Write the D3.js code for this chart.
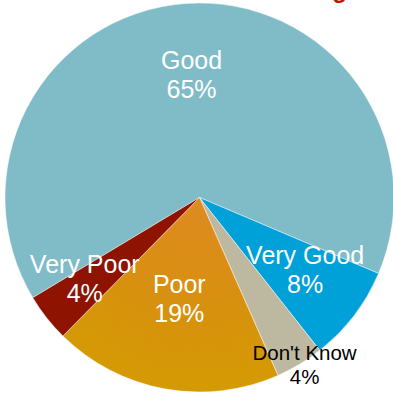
<!DOCTYPE html>
<html>
<head>
<meta charset="utf-8">
<script src="https://cdn.jsdelivr.net/npm/d3@7"></script>
<style>
  html, body { margin: 0; padding: 0; background: #fff; }
  svg { display: block; }
</style>
</head>
<body>
<svg id="chart" width="393" height="394"></svg>
<script>
// Survey responses, clockwise from the large "Good" slice
const categories = ["Good", "Very Good", "Don't Know", "Poor", "Very Poor"];
const values = [65, 8, 4, 19, 4];
const sliceColors = ["#80bcc8", "#00a0d9", "#bdb9a1", "#d4920c", "#8e1300"];
const labelColors = ["#ffffff", "#ffffff", "#000000", "#ffffff", "#ffffff"];
const labelSizes = [25, 25, 20.5, 25, 25];
const labelRadius = [114, 133, 204, 112, 146];

const width = 393, height = 394;
const cx = 199.5, cy = 197.5, radius = 194.5;
const startDeg = -121;

const svg = d3.select("#chart");

// Partially visible title above the chart
svg.append("text")
  .attr("x", 347)
  .attr("y", -2)
  .attr("text-anchor", "end")
  .attr("font-family", "Liberation Sans, Arial, sans-serif")
  .attr("font-weight", "bold")
  .attr("font-size", 24)
  .attr("fill", "#c01500")
  .text("Rating");

const defs = svg.append("defs");
const grad = defs.append("radialGradient")
  .attr("id", "poorFill")
  .attr("gradientUnits", "userSpaceOnUse")
  .attr("cx", 0).attr("cy", 0).attr("r", radius);
grad.append("stop").attr("offset", "0%").attr("stop-color", "#de8a22");
grad.append("stop").attr("offset", "55%").attr("stop-color", "#d8900f");
grad.append("stop").attr("offset", "100%").attr("stop-color", "#d49a04");

const data = categories.map((c, i) => ({
  name: c, value: values[i], color: sliceColors[i],
  textColor: labelColors[i], size: labelSizes[i], lr: labelRadius[i]
}));

const pie = d3.pie()
  .value(d => d.value)
  .sort(null)
  .startAngle(startDeg * Math.PI / 180)
  .endAngle((startDeg + 360) * Math.PI / 180);

const arc = d3.arc().innerRadius(0).outerRadius(radius);

const g = svg.append("g").attr("transform", `translate(${cx},${cy})`);
const arcs = pie(data);

g.selectAll("path.slice")
  .data(arcs)
  .join("path")
  .attr("class", "slice")
  .attr("d", arc)
  .attr("fill", d => d.data.name === "Poor" ? "url(#poorFill)" : d.data.color)
  .attr("stroke", "rgba(255,255,255,0.45)")
  .attr("stroke-width", 1)
  .attr("stroke-linejoin", "round");

// Two-line labels: the anchor point sits midway between the two baselines
const labels = g.selectAll("text.lbl")
  .data(arcs)
  .join("text")
  .attr("class", "lbl")
  .attr("transform", d => {
    const la = d3.arc().innerRadius(d.data.lr).outerRadius(d.data.lr);
    const [x, y] = la.centroid(d);
    return `translate(${x},${y})`;
  })
  .attr("text-anchor", "middle")
  .attr("font-family", "Liberation Sans, Arial, sans-serif")
  .attr("font-size", d => d.data.size)
  .attr("fill", d => d.data.textColor);

labels.append("tspan")
  .attr("x", 0)
  .attr("dy", d => -d.data.size * 0.585)
  .text(d => d.data.name);
labels.append("tspan")
  .attr("x", 0)
  .attr("dy", d => d.data.size * 1.17)
  .text(d => d.data.value + "%");
</script>
</body>
</html>
